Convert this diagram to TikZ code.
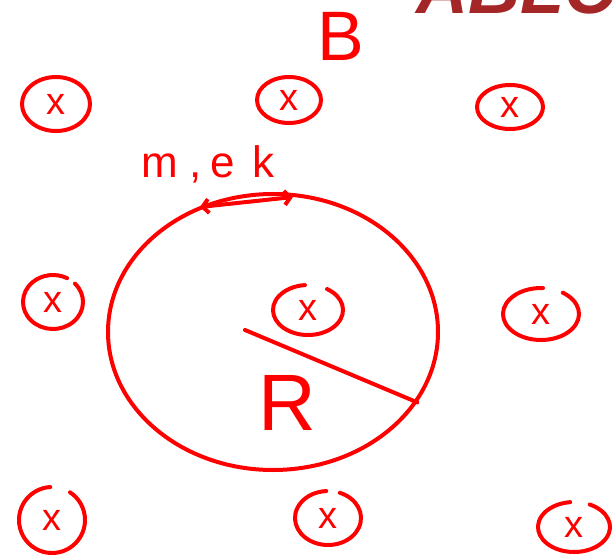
\documentclass[tikz,border=0pt]{standalone}
\usepackage{fontspec}
\setmainfont{Liberation Sans}
\usetikzlibrary{arrows.meta,shapes.geometric}
\definecolor{ink}{RGB}{255,0,0}
\definecolor{logored}{RGB}{165,38,38}
\begin{document}
\begin{tikzpicture}[x=1pt,y=-1pt,
  pen/.style={draw=ink,line width=4pt,line cap=round,line join=round},
  fieldmark/.style={text=ink,inner sep=0pt,font=\fontsize{38}{38}\selectfont},
  handtext/.style={text=ink,inner sep=0pt,anchor=base},
  barb/.tip={Straight Barb[length=6pt,width=14pt]}
]
\useasboundingbox (0,0) rectangle (614,560);
\begin{scope}
\clip (0,0) rectangle (614,560);
\node[text=logored,anchor=base west,inner sep=0pt,font=\fontsize{72}{72}\selectfont\bfseries\itshape] (logo) at (416,13) {ABLC};
\end{scope}

\node[handtext,font=\fontsize{70}{70}\selectfont] (B) at (341,60) {B};

% closed field circles
\node[fieldmark] (c1) at (56,104) {x};
\draw[pen] (c1.center) ellipse[x radius=34,y radius=27];
\node[fieldmark] (c2) at (289,100) {x};
\draw[pen] (c2.center) ellipse[x radius=32,y radius=23];
\node[fieldmark] (c3) at (510,107) {x};
\draw[pen] (c3.center) ellipse[x radius=33,y radius=22];

% open field circles
\node[fieldmark] (c4) at (53,302) {x};
\draw[pen] ([shift={(-43:30 and 27)}]c4.center) arc[start angle=-43,end angle=298,x radius=30,y radius=27];
\node[fieldmark] (c5) at (308,310) {x};
\draw[pen] ([shift={(-57:35 and 25)}]c5.center) arc[start angle=-57,end angle=265,x radius=35,y radius=25];
\node[fieldmark] (c6) at (541,314) {x};
\draw[pen] ([shift={(-55:38 and 26)}]c6.center) arc[start angle=-55,end angle=273,x radius=38,y radius=26];
\node[fieldmark] (c7) at (52,520) {x};
\draw[pen] ([shift={(-57:33 and 33)}]c7.center) arc[start angle=-57,end angle=267,x radius=33,y radius=33];
\node[fieldmark] (c8) at (328,518) {x};
\draw[pen] ([shift={(-69:33 and 27)}]c8.center) arc[start angle=-69,end angle=267,x radius=33,y radius=27];
\node[fieldmark] (c9) at (574,527) {x};
\draw[pen] ([shift={(-64:36 and 25)}]c9.center) arc[start angle=-64,end angle=264,x radius=36,y radius=25];

% orbit
\node[ellipse,pen,minimum width=330pt,minimum height=276pt,inner sep=0pt] (bigc) at (273,332) {};
\coordinate (rc) at (245,330);
\draw[pen] (rc) -- (bigc.-26);
\node[handtext,font=\fontsize{80}{80}\selectfont] (R) at (287,430) {R};

% velocity arrow and label
\coordinate (a1) at (200,207);
\coordinate (a2) at (293,197);
\draw[pen,barb-barb] (a1) -- (a2);
\node[handtext,font=\fontsize{44}{44}\selectfont] (lbl) at (208,177) {m\hspace{12pt},\hspace{8pt}e\hspace{18pt}k};
\end{tikzpicture}
\end{document}
